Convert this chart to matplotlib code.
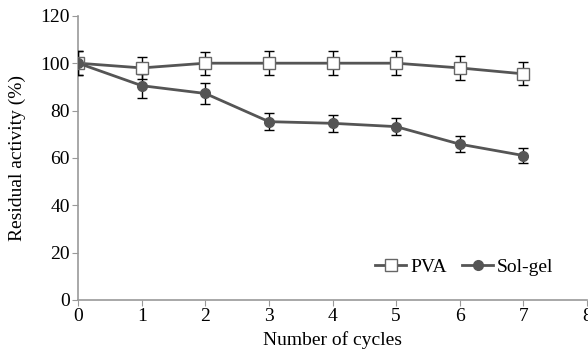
import matplotlib.pyplot as plt
import numpy as np

# Data
cycles = [0, 1, 2, 3, 4, 5, 6, 7]
pva = [100, 98, 100, 100, 100, 100, 98, 95.5]
pva_err = [5, 4.5, 4.8, 5, 5, 5, 5, 4.8]
solgel = [100, 90.5, 87.2, 75.3, 74.6, 73.2, 65.8, 61]
solgel_err = [5, 5, 4.6, 3.7, 3.6, 3.5, 3.3, 3]

plt.rcParams['font.family'] = ['Liberation Serif', 'DejaVu Serif']

fig = plt.figure(figsize=(5.88, 3.52), dpi=100)
ax = fig.add_axes([0.133, 0.148, 0.865, 0.807])

line_col = '#555555'
ax.errorbar(cycles, pva, yerr=pva_err, color=line_col, lw=2, marker='s', ms=8,
            mfc='white', mec='#666666', mew=1, ecolor='black', elinewidth=1,
            capsize=3.5, capthick=1, label='PVA', zorder=3)
ax.errorbar(cycles, solgel, yerr=solgel_err, color=line_col, lw=2, marker='o', ms=7,
            mfc=line_col, mec=line_col, ecolor='black', elinewidth=1,
            capsize=3.5, capthick=1, label='Sol-gel', zorder=3)

ax.set_xlim(0, 8)
ax.set_ylim(0, 120)
ax.set_xticks(range(0, 9))
ax.set_yticks(range(0, 121, 20))

for s in ['top', 'right']:
    ax.spines[s].set_visible(False)
for s in ['left', 'bottom']:
    ax.spines[s].set_color('#999999')
    ax.spines[s].set_linewidth(1.2)
ax.tick_params(colors='#999999', labelcolor='black', labelsize=14, length=4, pad=2)
ax.set_xlabel('Number of cycles', fontsize=14, labelpad=4)
ax.set_ylabel('Residual activity (%)', fontsize=14, labelpad=10)

handles, labels = ax.get_legend_handles_labels()
handles = [h[0] for h in handles]
ax.legend(handles, labels, loc='center right', bbox_to_anchor=(0.95, 0.116), ncol=2,
          frameon=False, fontsize=14, handlelength=1.6, columnspacing=0.8,
          handletextpad=0.2, borderaxespad=0)

plt.savefig('out.png', dpi=100)
